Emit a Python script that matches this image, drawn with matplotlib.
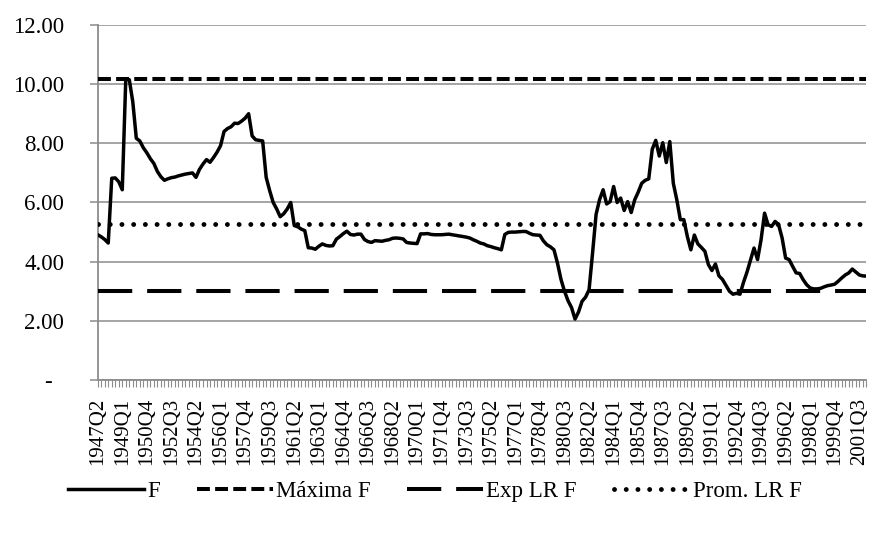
import matplotlib
matplotlib.use("Agg")
import matplotlib.pyplot as plt

plt.rcParams["font.family"] = ["Liberation Serif", "DejaVu Serif"]

# quarterly series, 1947Q2 .. 2002Q1
start_year = 1947
start_quarter = 2
f_values = [
    4.91, 4.84, 4.75, 4.63, 6.82, 6.83, 6.70, 6.43, 10.17, 10.15,
    9.40, 8.17, 8.08, 7.85, 7.68, 7.48, 7.32, 7.05, 6.87, 6.75,
    6.80, 6.84, 6.86, 6.90, 6.93, 6.96, 6.98, 7.00, 6.85, 7.12,
    7.30, 7.45, 7.36, 7.52, 7.70, 7.92, 8.40, 8.50, 8.56, 8.68,
    8.67, 8.75, 8.85, 9.00, 8.25, 8.12, 8.10, 8.08, 6.85, 6.40,
    6.00, 5.78, 5.52, 5.62, 5.78, 6.00, 5.22, 5.18, 5.10, 5.05,
    4.47, 4.46, 4.42, 4.52, 4.60, 4.55, 4.53, 4.54, 4.76, 4.85,
    4.95, 5.03, 4.92, 4.90, 4.93, 4.93, 4.75, 4.68, 4.65, 4.71,
    4.70, 4.69, 4.72, 4.74, 4.79, 4.80, 4.79, 4.77, 4.65, 4.63,
    4.62, 4.61, 4.94, 4.94, 4.95, 4.92, 4.91, 4.91, 4.91, 4.92,
    4.93, 4.91, 4.89, 4.87, 4.85, 4.83, 4.80, 4.74, 4.69, 4.63,
    4.60, 4.54, 4.51, 4.47, 4.44, 4.40, 4.92, 4.99, 5.00, 5.00,
    5.01, 5.02, 5.02, 4.96, 4.91, 4.90, 4.89, 4.70, 4.57, 4.50,
    4.40, 3.95, 3.40, 3.00, 2.68, 2.45, 2.06, 2.30, 2.66, 2.80,
    3.05, 4.30, 5.60, 6.10, 6.43, 5.95, 6.03, 6.54, 6.00, 6.15,
    5.73, 6.03, 5.66, 6.09, 6.35, 6.65, 6.75, 6.80, 7.80, 8.10,
    7.57, 8.02, 7.35, 8.06, 6.65, 6.09, 5.42, 5.42, 4.85, 4.40,
    4.90, 4.60, 4.48, 4.35, 3.90, 3.70, 3.92, 3.52, 3.40, 3.20,
    3.00, 2.90, 2.93, 2.90, 3.30, 3.65, 4.05, 4.46, 4.07, 4.74,
    5.64, 5.25, 5.19, 5.36, 5.25, 4.80, 4.12, 4.07, 3.84, 3.62,
    3.60, 3.39, 3.22, 3.11, 3.08, 3.08, 3.10, 3.15, 3.19, 3.21,
    3.24, 3.34, 3.45, 3.55, 3.62, 3.75, 3.65, 3.55, 3.52, 3.51,
]
max_f = 10.17
exp_lr_f = 3.02
prom_lr_f = 5.27

yticks = [0, 2, 4, 6, 8, 10, 12]
ytick_labels = ["-  ", "2.00", "4.00", "6.00", "8.00", "10.00", "12.00"]
label_step = 7

n = len(f_values)
quarters = []
for k in range(n):
    q = start_quarter - 1 + k
    quarters.append(f"{start_year + q // 4}Q{q % 4 + 1}")
x = list(range(n))

fig = plt.figure(figsize=(8.7, 5.34), dpi=100)
ax = fig.add_axes([0.1123, 0.2884, 0.8835, 0.6648])

ax.plot(x, f_values, color="black", lw=2.5, label="F", zorder=5,
        solid_joinstyle="round")
ax.plot(x, [max_f] * n, color="black", lw=2.9, dashes=(3.2, 1.3),
        label="Máxima F", zorder=4)
ax.plot(x, [exp_lr_f] * n, color="black", lw=2.9, dashes=(8.5, 3.7),
        label="Exp LR F", zorder=4)
ax.plot(x, [prom_lr_f] * n, color="black", lw=3.5, dashes=(0.01, 2.4),
        dash_capstyle="round", label="Prom. LR F", zorder=4)

ax.set_xlim(0, n - 1)
ax.set_ylim(0, 12)
ax.set_yticks(yticks)
ax.set_yticklabels(ytick_labels)
ax.set_xticks(x[::label_step])
ax.set_xticklabels(quarters[::label_step], rotation=90)
ax.set_xticks(x, minor=True)

ax.grid(axis="y", color="#8c8c8c", lw=1.1)
ax.set_axisbelow(True)
for s in ["top", "right"]:
    ax.spines[s].set_visible(False)
for s in ["left", "bottom"]:
    ax.spines[s].set_color("#8c8c8c")
    ax.spines[s].set_linewidth(1.3)

ax.tick_params(axis="y", length=6, width=1.1, color="#8c8c8c", pad=18,
               labelsize=16.5)
ax.tick_params(axis="x", which="both", length=5, width=0.8, color="#8c8c8c",
               pad=8, labelsize=15)

fig.legend(loc="center", bbox_to_anchor=(0.5, 0.08), ncol=4, frameon=False,
           fontsize=16.5, handlelength=3.3, handletextpad=0.15,
           columnspacing=1.6)

fig.savefig("out.png", dpi=100)
